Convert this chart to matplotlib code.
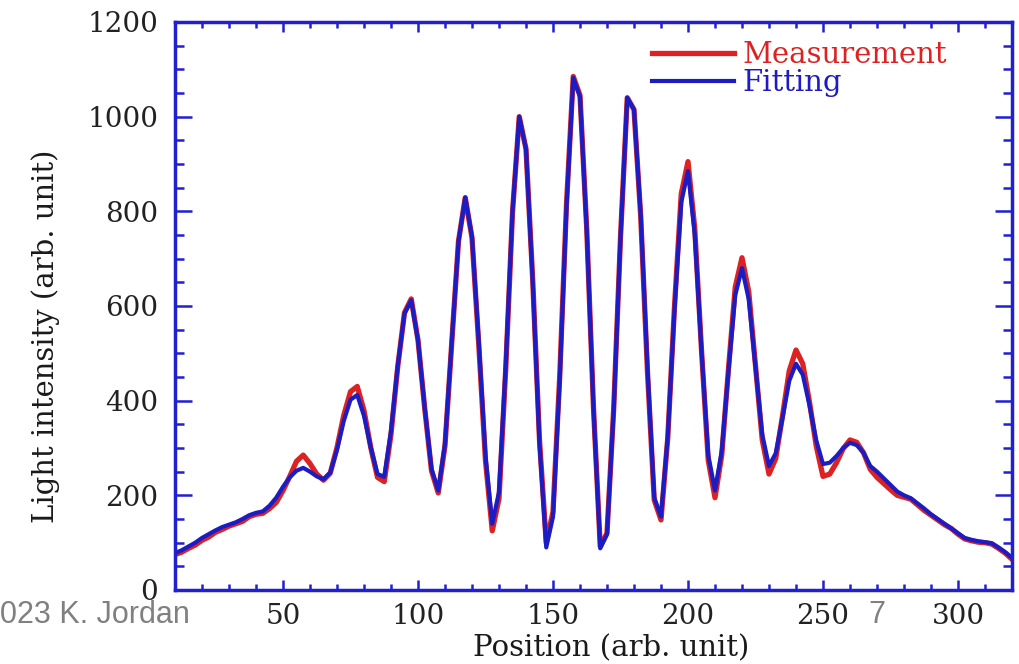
import numpy as np
import matplotlib
matplotlib.use('Agg')
import matplotlib.pyplot as plt
from matplotlib.ticker import MultipleLocator

plt.rcParams['font.family'] = ['DejaVu Serif']

# sample positions (arb. unit), every 2.5
position = np.arange(10, 320.1, 2.5)

# measured light intensity (red)
measurement = [
    75, 80, 88, 95, 105, 112, 122, 128, 135, 140,
    145, 155, 160, 162, 172, 185, 210, 240, 272, 285,
    267, 245, 232, 247, 301, 369, 419, 430, 379, 301,
    238, 229, 329, 472, 586, 615, 528, 383, 252, 205,
    305, 522, 737, 829, 744, 519, 273, 125, 193, 467,
    797, 1000, 932, 654, 317, 100, 165, 453, 815, 1085,
    1045, 762, 385, 92, 120, 385, 745, 1040, 1015, 788,
    460, 190, 148, 321, 599, 837, 905, 764, 507, 274,
    195, 285, 468, 640, 702, 630, 474, 317, 245, 278,
    368, 463, 507, 478, 397, 304, 240, 245, 269, 299,
    317, 312, 290, 255, 238, 225, 212, 200, 196, 192,
    180, 168, 158, 148, 138, 130, 118, 108, 104, 101,
    100, 97, 88, 78, 65,
]

# fitted curve (blue)
fitting = [
    78, 84, 92, 100, 110, 118, 126, 133, 138, 143,
    150, 158, 163, 166, 178, 195, 218, 238, 252, 258,
    250, 240, 234, 248, 296, 357, 402, 412, 368, 301,
    245, 239, 336, 474, 584, 612, 527, 384, 256, 210,
    309, 524, 737, 829, 746, 525, 283, 140, 207, 476,
    800, 1000, 931, 650, 309, 90, 155, 445, 810, 1082,
    1042, 759, 382, 88, 118, 383, 744, 1040, 1015, 791,
    467, 195, 155, 324, 592, 819, 885, 751, 506, 285,
    210, 294, 463, 623, 680, 614, 471, 328, 262, 289,
    363, 442, 478, 455, 390, 316, 266, 269, 283, 300,
    311, 306, 290, 262, 250, 236, 222, 208, 200, 194,
    183, 172, 160, 150, 140, 130, 120, 110, 106, 103,
    101, 99, 90, 80, 68,
]

red = '#dc2222'
blue = '#1c1cc4'
axcol = '#2020d0'

fig = plt.figure(figsize=(10.2, 6.64), dpi=100)
ax = fig.add_axes([175 / 1020, 1 - 590 / 664, 837 / 1020, 568 / 664])

ax.plot(position, measurement, color=red, lw=3.8, label='Measurement')
ax.plot(position, fitting, color=blue, lw=3.0, label='Fitting')

ax.set_xlim(10, 320)
ax.set_ylim(0, 1200)
ax.xaxis.set_major_locator(MultipleLocator(50))
ax.xaxis.set_minor_locator(MultipleLocator(10))
ax.yaxis.set_major_locator(MultipleLocator(200))
ax.yaxis.set_minor_locator(MultipleLocator(50))

for s in ax.spines.values():
    s.set_color(axcol)
    s.set_linewidth(2.5)

ax.tick_params(which='both', direction='in', top=True, right=True, color=axcol,
               width=1.8, labelsize=20, labelcolor='#222222')
ax.tick_params(axis='y', which='major', length=12, pad=12)
ax.tick_params(axis='y', which='minor', length=6.5)
ax.tick_params(axis='x', which='major', length=7, pad=9)
ax.tick_params(axis='x', which='minor', length=4)

ax.set_xlabel('Position (arb. unit)', fontsize=21, color='#1a1a1a')
ax.set_ylabel('Light intensity (arb. unit)', fontsize=21, color='#1a1a1a')
ax.xaxis.set_label_coords(0.521, -0.078)
ax.yaxis.set_label_coords(-0.137, 0.447)

leg = ax.legend(loc='upper left', bbox_to_anchor=(652 / 1020, 1 - 41 / 664),
                bbox_transform=fig.transFigure, frameon=False, fontsize=21,
                handlelength=2.8, handletextpad=0.3, labelspacing=0.0,
                borderpad=0, borderaxespad=0)
for txt, c in zip(leg.get_texts(), [red, blue]):
    txt.set_color(c)

# slide footer leftovers
fig.text(190 / 1020, 1 - 615 / 664, '\u00a9 2023 K. Jordan', ha='right', va='center',
         fontsize=22, color='#808080', family='Liberation Sans')
fig.text(877 / 1020, 1 - 615 / 664, '7', ha='center', va='center',
         fontsize=22, color='#808080', family='Liberation Sans')

fig.savefig('out.png', dpi=100)
